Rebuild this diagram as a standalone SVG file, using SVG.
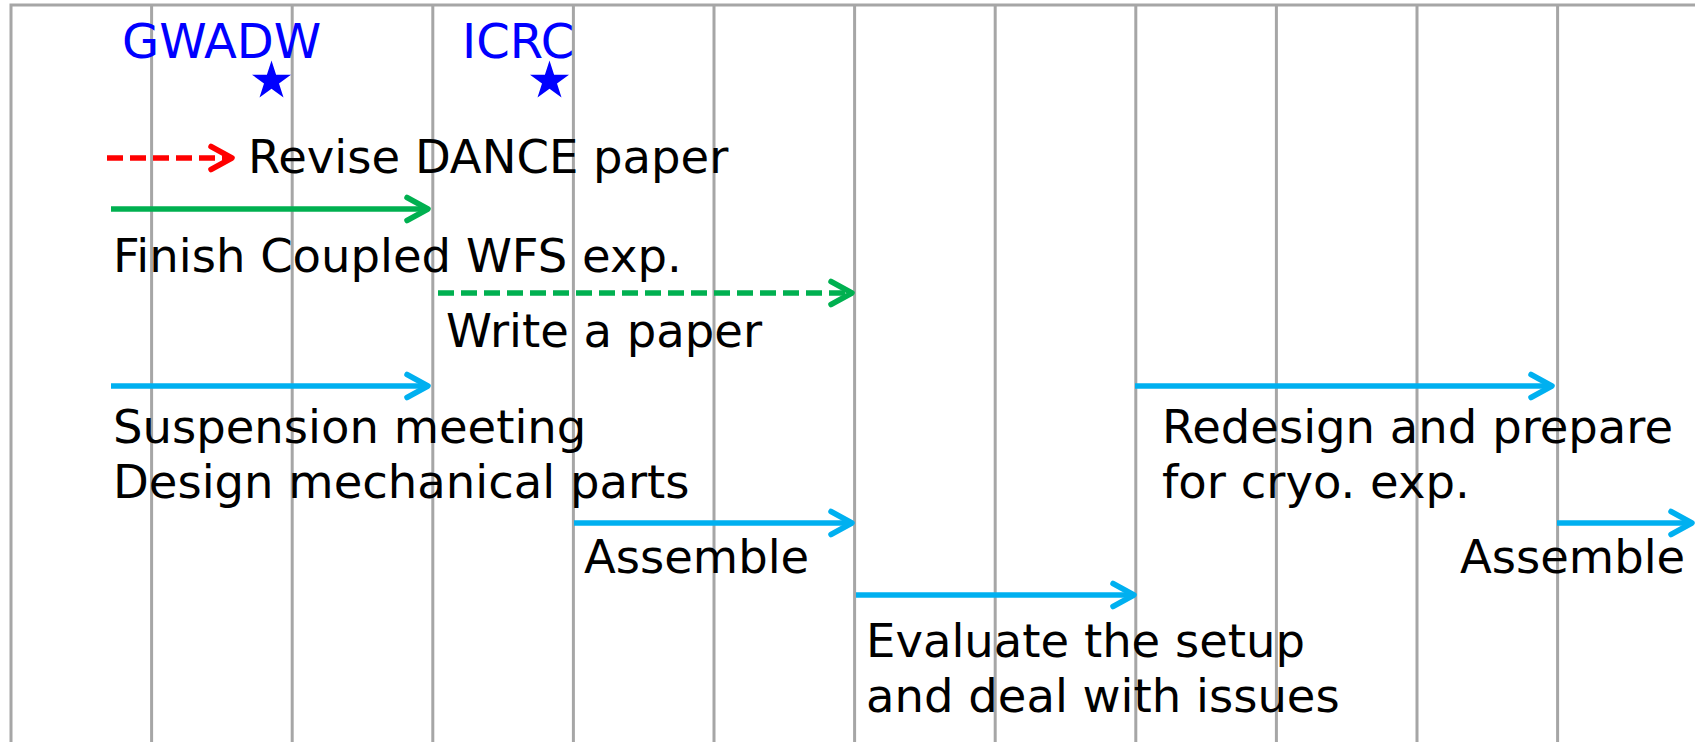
<svg xmlns="http://www.w3.org/2000/svg" width="1695" height="742" viewBox="0 0 1695 742">
  <style>
    .grid { stroke: #a6a6a6; stroke-width: 3; fill: none; }
    .label { font-family: "DejaVu Sans", "Verdana", sans-serif; font-size: 46.5px; fill: #000000; }
    .event { font-family: "DejaVu Sans", "Verdana", sans-serif; font-size: 48px; fill: #0000ff; }
    .bar { stroke-width: 5.5; fill: none; }
    .dashed { stroke-dasharray: 16 7; }
    .red { stroke: #ff0000; }
    .green { stroke: #00b050; }
    .blue { stroke: #00b0f0; }
  </style>
  <defs>
    <marker id="head-red" markerUnits="userSpaceOnUse" markerWidth="40" markerHeight="40" viewBox="-30 -20 40 40" refX="0" refY="0" orient="auto" overflow="visible">
      <path d="M -21 -11.5 L 0 0 L -21 11.5" fill="none" stroke="#ff0000" stroke-width="5.5" stroke-linecap="round" stroke-linejoin="round"/>
    </marker>
    <marker id="head-green" markerUnits="userSpaceOnUse" markerWidth="40" markerHeight="40" viewBox="-30 -20 40 40" refX="0" refY="0" orient="auto" overflow="visible">
      <path d="M -21 -11.5 L 0 0 L -21 11.5" fill="none" stroke="#00b050" stroke-width="5.5" stroke-linecap="round" stroke-linejoin="round"/>
    </marker>
    <marker id="head-blue" markerUnits="userSpaceOnUse" markerWidth="40" markerHeight="40" viewBox="-30 -20 40 40" refX="0" refY="0" orient="auto" overflow="visible">
      <path d="M -21 -11.5 L 0 0 L -21 11.5" fill="none" stroke="#00b0f0" stroke-width="5.5" stroke-linecap="round" stroke-linejoin="round"/>
    </marker>
    <!-- five-point star, outer radius 20.5 -->
    <path id="star" d="M 0 -20.5 L 4.6 -6.3 L 19.5 -6.3 L 7.5 2.4 L 12 16.6 L 0 7.8 L -12 16.6 L -7.5 2.4 L -19.5 -6.3 L -4.6 -6.3 Z" fill="#0000ff"/>
  </defs>

  <rect width="1695" height="742" fill="#ffffff"/>

  <!-- month grid -->
  <g id="grid" class="grid">
    <path d="M 11 760 L 11 5 L 1700 5"/>
    <line x1="151.6" y1="5" x2="151.6" y2="760"/>
    <line x1="292.2" y1="5" x2="292.2" y2="760"/>
    <line x1="432.8" y1="5" x2="432.8" y2="760"/>
    <line x1="573.4" y1="5" x2="573.4" y2="760"/>
    <line x1="714" y1="5" x2="714" y2="760"/>
    <line x1="854.6" y1="5" x2="854.6" y2="760"/>
    <line x1="995.2" y1="5" x2="995.2" y2="760"/>
    <line x1="1135.8" y1="5" x2="1135.8" y2="760"/>
    <line x1="1276.4" y1="5" x2="1276.4" y2="760"/>
    <line x1="1417" y1="5" x2="1417" y2="760"/>
    <line x1="1557.6" y1="5" x2="1557.6" y2="760"/>
  </g>

  <!-- conferences -->
  <g id="gwadw">
    <text class="event" x="122" y="58">GWADW</text>
    <use href="#star" x="271.5" y="81"/>
  </g>
  <g id="icrc">
    <text class="event" x="462" y="58">ICRC</text>
    <use href="#star" x="549.5" y="81"/>
  </g>

  <!-- task bars -->
  <g id="connectors">
    <line class="bar red dashed" x1="107" y1="158" x2="232" y2="158" marker-end="url(#head-red)"/>
    <line class="bar green" x1="111" y1="209" x2="428" y2="209" marker-end="url(#head-green)"/>
    <line class="bar green dashed" x1="438" y1="293" x2="852" y2="293" marker-end="url(#head-green)"/>
    <line class="bar blue" x1="111" y1="386" x2="428" y2="386" marker-end="url(#head-blue)"/>
    <line class="bar blue" x1="574" y1="523" x2="852" y2="523" marker-end="url(#head-blue)"/>
    <line class="bar blue" x1="856" y1="595" x2="1134" y2="595" marker-end="url(#head-blue)"/>
    <line class="bar blue" x1="1135" y1="386" x2="1552" y2="386" marker-end="url(#head-blue)"/>
    <line class="bar blue" x1="1557" y1="523" x2="1692" y2="523" marker-end="url(#head-blue)"/>
  </g>

  <!-- task labels -->
  <g id="revise-dance">
    <text class="label" x="248" y="173">Revise DANCE paper</text>
  </g>
  <g id="coupled-wfs">
    <text class="label" x="113" y="272">Finish Coupled WFS exp.</text>
  </g>
  <g id="write-paper">
    <text class="label" x="446" y="347">Write a paper</text>
  </g>
  <g id="design">
    <text class="label" x="113" y="443">Suspension meeting</text>
    <text class="label" x="113" y="498">Design mechanical parts</text>
  </g>
  <g id="assemble-1">
    <text class="label" x="584" y="573">Assemble</text>
  </g>
  <g id="evaluate">
    <text class="label" x="866" y="657">Evaluate the setup</text>
    <text class="label" x="866" y="712">and deal with issues</text>
  </g>
  <g id="redesign">
    <text class="label" x="1162" y="443">Redesign and prepare</text>
    <text class="label" x="1162" y="498">for cryo. exp.</text>
  </g>
  <g id="assemble-2">
    <text class="label" x="1460" y="573">Assemble</text>
  </g>
</svg>
